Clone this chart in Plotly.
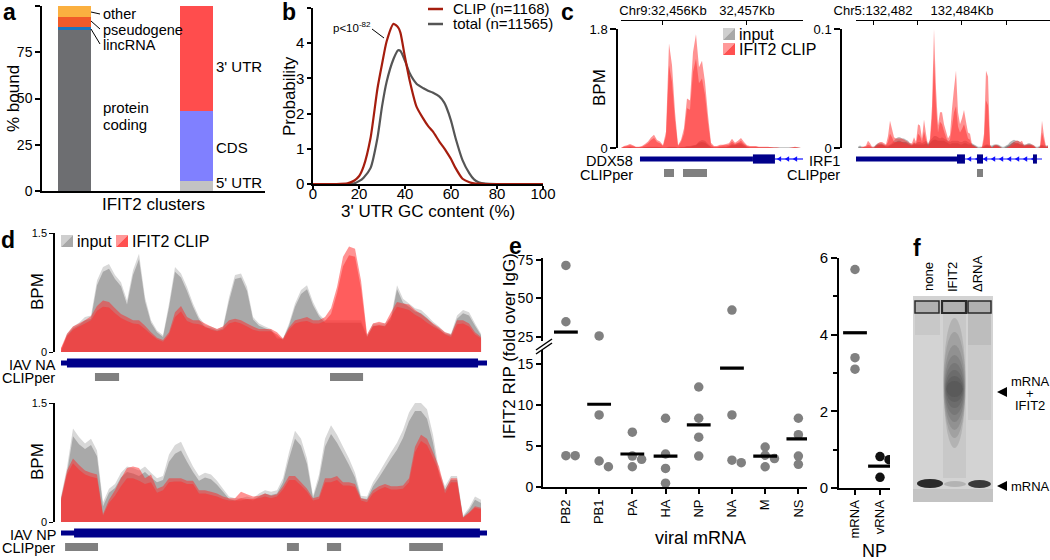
import numpy as np
import plotly.graph_objects as go

# ======================= DATA =======================
# panel a : composition of IFIT2 clusters (% bound)
biotype_names = ["protein coding", "lincRNA", "pseudogene", "other"]
biotype_pct = [86.8, 1.7, 5.5, 6.0]
region_names = ["5' UTR", "CDS", "3' UTR"]
region_pct = [5.5, 37.5, 57.0]

# panel b : 3' UTR GC content densities
gc_content = [0, 10, 15, 18, 20, 22, 25, 28, 30, 32, 35, 37, 38, 40, 42, 45, 48, 50, 52, 55,
              57, 58, 60, 62, 65, 68, 70, 72, 75, 80, 90, 100]
clip_density = [0, 0, 0.02, 0.10, 0.22, 0.50, 1.30, 2.70, 3.40, 4.05, 4.55, 4.45, 4.30, 3.60, 2.95, 2.20,
                1.85, 1.65, 1.50, 1.20, 1.02, 0.92, 0.71, 0.45, 0.15, 0.05, 0.02, 0.01, 0, 0, 0, 0]
total_density = [0, 0, 0, 0.02, 0.08, 0.18, 0.45, 1.30, 2.20, 2.90, 3.55, 3.80, 3.78, 3.50, 3.15, 2.85,
                 2.72, 2.65, 2.60, 2.48, 2.32, 2.18, 1.80, 1.30, 0.68, 0.30, 0.13, 0.05, 0.01, 0, 0, 0]

# panel c : DDX58 coverage (BPM), genomic window chr9
ddx58_window = [32455500, 32457643]
ddx58_clip_hi = [0.00, 0.03, 0.04, 0.06, 0.04, 0.02, 0.02, 0.03, 0.06, 0.10,
                 0.16, 0.20, 0.12, 0.10, 0.04, 0.25, 1.58, 1.25, 0.55, 0.04,
                 0.12, 0.30, 0.75, 0.72, 1.45, 1.72, 1.22, 1.32, 1.00, 0.50,
                 0.08, 0.03, 0.03, 0.05, 0.05, 0.06, 0.07, 0.14, 0.08, 0.11,
                 0.15, 0.09, 0.04, 0.03, 0.03, 0.03, 0.02, 0.02, 0.02, 0.02,
                 0.01, 0.01, 0.01, 0.00, 0.00, 0.00, 0.00, 0.01, 0.02, 0.01, 0.00]
ddx58_clip_lo = [0.00, 0.02, 0.03, 0.04, 0.03, 0.01, 0.01, 0.02, 0.04, 0.07,
                 0.12, 0.15, 0.09, 0.07, 0.03, 0.18, 1.25, 1.00, 0.42, 0.03,
                 0.09, 0.22, 0.60, 0.58, 1.15, 1.35, 0.98, 1.05, 0.80, 0.38,
                 0.05, 0.02, 0.02, 0.03, 0.04, 0.04, 0.05, 0.10, 0.06, 0.08,
                 0.11, 0.06, 0.03, 0.02, 0.02, 0.02, 0.01, 0.01, 0.01, 0.01,
                 0.01, 0.00, 0.00, 0.00, 0.00, 0.00, 0.00, 0.00, 0.01, 0.00, 0.00]
ddx58_input_hi = [0.00, 0.01, 0.01, 0.01, 0.01, 0.01, 0.01, 0.01, 0.01, 0.02,
                  0.02, 0.02, 0.02, 0.01, 0.01, 0.01, 0.02, 0.02, 0.02, 0.01,
                  0.02, 0.02, 0.03, 0.03, 0.04, 0.05, 0.10, 0.12, 0.11, 0.06,
                  0.02, 0.01, 0.01, 0.01, 0.02, 0.02, 0.03, 0.06, 0.05, 0.07,
                  0.08, 0.05, 0.02, 0.01, 0.01, 0.01, 0.01, 0.01, 0.01, 0.01,
                  0.01, 0.01, 0.01, 0.01, 0.01, 0.01, 0.01, 0.01, 0.01, 0.01, 0.00]
ddx58_input_lo = [0.00, 0.00, 0.00, 0.01, 0.00, 0.00, 0.00, 0.00, 0.01, 0.01,
                  0.01, 0.01, 0.01, 0.01, 0.00, 0.00, 0.01, 0.01, 0.01, 0.00,
                  0.01, 0.01, 0.02, 0.02, 0.03, 0.04, 0.08, 0.09, 0.08, 0.04,
                  0.01, 0.00, 0.00, 0.01, 0.01, 0.01, 0.02, 0.04, 0.04, 0.05,
                  0.06, 0.03, 0.01, 0.00, 0.00, 0.00, 0.00, 0.00, 0.00, 0.00,
                  0.00, 0.00, 0.00, 0.00, 0.00, 0.00, 0.00, 0.00, 0.00, 0.00, 0.00]
ddx58_utr = [32455726, 32457071]
ddx58_exons = [[32457071, 32457333]]
ddx58_line = [32457333, 32457667]
ddx58_clipper = [[32456012, 32456131], [32456238, 32456524]]

# panel c : IRF1 coverage (BPM), genomic window chr5
irf1_window = [132481663, 132485933]
irf1_clip_hi = [0.000, 0.000, 0.001, 0.001, 0.002, 0.006, 0.004, 0.001, 0.001, 0.002,
                0.004, 0.005, 0.005, 0.004, 0.003, 0.010, 0.023, 0.016, 0.009, 0.008,
                0.008, 0.008, 0.008, 0.007, 0.006, 0.005, 0.004, 0.004, 0.009, 0.005,
                0.020, 0.019, 0.008, 0.024, 0.012, 0.002, 0.008, 0.035, 0.100, 0.050,
                0.019, 0.030, 0.030, 0.020, 0.014, 0.008, 0.011, 0.033, 0.050, 0.065,
                0.030, 0.020, 0.025, 0.032, 0.022, 0.013, 0.012, 0.003, 0.002, 0.001,
                0.000, 0.000, 0.001, 0.012, 0.065, 0.060, 0.003, 0.000, 0.002, 0.003,
                0.002, 0.001, 0.000, 0.000, 0.000, 0.001, 0.002, 0.004, 0.005, 0.006,
                0.006, 0.005, 0.006, 0.002, 0.003, 0.003, 0.003, 0.003, 0.002, 0.000,
                0.000, 0.001, 0.023, 0.010, 0.001, 0.002]
irf1_clip_lo = [0.000, 0.000, 0.000, 0.001, 0.001, 0.003, 0.002, 0.000, 0.000, 0.001,
                0.002, 0.003, 0.003, 0.002, 0.002, 0.005, 0.012, 0.009, 0.005, 0.005,
                0.005, 0.005, 0.005, 0.004, 0.004, 0.003, 0.002, 0.002, 0.005, 0.003,
                0.012, 0.010, 0.005, 0.014, 0.007, 0.001, 0.005, 0.025, 0.075, 0.035,
                0.013, 0.022, 0.020, 0.014, 0.009, 0.005, 0.007, 0.018, 0.030, 0.035,
                0.018, 0.013, 0.016, 0.020, 0.014, 0.008, 0.007, 0.002, 0.001, 0.000,
                0.000, 0.000, 0.000, 0.007, 0.040, 0.036, 0.002, 0.000, 0.001, 0.002,
                0.001, 0.000, 0.000, 0.000, 0.000, 0.000, 0.001, 0.002, 0.003, 0.004,
                0.004, 0.003, 0.003, 0.001, 0.002, 0.002, 0.002, 0.002, 0.001, 0.000,
                0.000, 0.000, 0.013, 0.006, 0.000, 0.001]
irf1_input_hi = [0.001, 0.002, 0.001, 0.001, 0.001, 0.001, 0.001, 0.001, 0.001, 0.003,
                 0.004, 0.004, 0.004, 0.003, 0.002, 0.002, 0.003, 0.004, 0.006, 0.008,
                 0.009, 0.009, 0.008, 0.008, 0.007, 0.006, 0.004, 0.003, 0.004, 0.004,
                 0.005, 0.005, 0.004, 0.005, 0.006, 0.004, 0.006, 0.008, 0.010, 0.010,
                 0.009, 0.008, 0.009, 0.008, 0.007, 0.006, 0.005, 0.006, 0.006, 0.006,
                 0.006, 0.005, 0.005, 0.006, 0.006, 0.005, 0.004, 0.004, 0.003, 0.002,
                 0.001, 0.001, 0.001, 0.002, 0.003, 0.003, 0.002, 0.002, 0.003, 0.003,
                 0.003, 0.002, 0.001, 0.001, 0.002, 0.003, 0.005, 0.006, 0.007, 0.006,
                 0.006, 0.005, 0.004, 0.003, 0.003, 0.004, 0.004, 0.003, 0.002, 0.001,
                 0.001, 0.002, 0.003, 0.002, 0.002, 0.002]
irf1_input_lo = [0.000, 0.001, 0.000, 0.000, 0.000, 0.000, 0.000, 0.000, 0.000, 0.002,
                 0.003, 0.003, 0.003, 0.002, 0.001, 0.001, 0.002, 0.003, 0.004, 0.005,
                 0.006, 0.006, 0.005, 0.005, 0.005, 0.004, 0.003, 0.002, 0.003, 0.003,
                 0.003, 0.003, 0.003, 0.003, 0.004, 0.003, 0.004, 0.006, 0.007, 0.007,
                 0.006, 0.006, 0.006, 0.006, 0.005, 0.004, 0.003, 0.004, 0.004, 0.004,
                 0.004, 0.003, 0.003, 0.004, 0.004, 0.003, 0.003, 0.003, 0.002, 0.001,
                 0.000, 0.000, 0.000, 0.001, 0.002, 0.002, 0.001, 0.001, 0.002, 0.002,
                 0.002, 0.001, 0.000, 0.000, 0.001, 0.002, 0.003, 0.004, 0.005, 0.004,
                 0.004, 0.003, 0.003, 0.002, 0.002, 0.003, 0.003, 0.002, 0.001, 0.000,
                 0.000, 0.001, 0.002, 0.001, 0.001, 0.001]
irf1_utr = [132481618, 132483888]
irf1_exons = [[132483888, 132484067], [132484337, 132484472], [132485596, 132485685]]
irf1_line = [132484067, 132485798]
irf1_clipper = [[132484337, 132484472]]

# panel d : IAV NA and NP coverage (BPM) along the segment (nt)
na_length = 1430
na_window = [0, 1410]
na_input_hi = [0.00, 0.23, 0.32, 0.37, 0.44, 0.46, 0.90, 1.07, 1.11, 0.97,
               0.88, 0.65, 1.03, 1.24, 0.69, 0.40, 0.27, 0.21, 0.61, 1.07,
               0.99, 0.82, 0.61, 0.44, 0.34, 0.32, 0.29, 0.32, 0.69, 0.97,
               0.99, 0.82, 0.44, 0.36, 0.32, 0.29, 0.19, 0.17, 0.36, 0.61,
               0.78, 0.84, 0.63, 0.48, 0.40, 0.40, 0.40, 0.40, 0.40, 0.40,
               0.40, 0.21, 0.36, 0.36, 0.36, 0.44, 0.84, 0.67, 0.61, 0.55,
               0.53, 0.46, 0.38, 0.32, 0.25, 0.23, 0.46, 0.53, 0.50, 0.36, 0.23]
na_input_lo = [0.00, 0.21, 0.30, 0.34, 0.40, 0.42, 0.84, 1.01, 1.05, 0.92,
               0.83, 0.60, 0.97, 1.17, 0.64, 0.37, 0.25, 0.19, 0.56, 1.01,
               0.94, 0.77, 0.57, 0.41, 0.31, 0.30, 0.27, 0.30, 0.64, 0.92,
               0.94, 0.77, 0.41, 0.33, 0.30, 0.27, 0.17, 0.16, 0.33, 0.57,
               0.73, 0.79, 0.59, 0.45, 0.37, 0.37, 0.37, 0.37, 0.37, 0.37,
               0.37, 0.19, 0.33, 0.33, 0.33, 0.41, 0.79, 0.62, 0.57, 0.51,
               0.49, 0.43, 0.35, 0.29, 0.23, 0.21, 0.42, 0.49, 0.46, 0.33, 0.21]
na_clip_hi = [0.05, 0.23, 0.32, 0.36, 0.40, 0.45, 0.58, 0.65, 0.63, 0.55,
              0.48, 0.44, 0.40, 0.40, 0.33, 0.25, 0.18, 0.15, 0.25, 0.50,
              0.58, 0.44, 0.40, 0.40, 0.36, 0.32, 0.29, 0.32, 0.40, 0.42,
              0.40, 0.36, 0.32, 0.29, 0.29, 0.29, 0.25, 0.17, 0.31, 0.40,
              0.42, 0.44, 0.40, 0.40, 0.44, 0.55, 0.82, 1.20, 1.33, 1.30,
              0.90, 0.22, 0.36, 0.38, 0.36, 0.50, 0.63, 0.61, 0.60, 0.53,
              0.48, 0.42, 0.36, 0.31, 0.25, 0.22, 0.40, 0.40, 0.36, 0.25, 0.19]
na_clip_lo = [0.04, 0.20, 0.28, 0.32, 0.36, 0.40, 0.52, 0.57, 0.56, 0.49,
              0.43, 0.39, 0.36, 0.35, 0.29, 0.22, 0.16, 0.13, 0.22, 0.44,
              0.51, 0.39, 0.36, 0.35, 0.32, 0.28, 0.26, 0.28, 0.36, 0.38,
              0.36, 0.32, 0.28, 0.26, 0.26, 0.26, 0.22, 0.15, 0.28, 0.36,
              0.38, 0.39, 0.36, 0.36, 0.39, 0.48, 0.74, 1.08, 1.22, 1.20,
              0.80, 0.19, 0.32, 0.34, 0.32, 0.45, 0.57, 0.55, 0.53, 0.47,
              0.43, 0.37, 0.32, 0.28, 0.22, 0.19, 0.35, 0.36, 0.32, 0.22, 0.17]
na_cds = [20, 1400]
na_clipper = [[114, 195], [903, 1014]]

np_length = 1565
np_window = [0, 1543]
np_input_hi = [0.32, 0.69, 1.18, 1.07, 0.99, 1.05, 0.90, 0.25, 0.42, 0.48,
               0.62, 0.70, 0.68, 0.65, 0.70, 0.62, 0.55, 0.58, 0.85, 0.97,
               1.01, 0.85, 0.70, 0.58, 0.62, 0.60, 0.52, 0.42, 0.32, 0.30,
               0.30, 0.32, 0.30, 0.36, 0.40, 0.38, 0.40, 0.55, 0.88, 1.15,
               1.05, 0.80, 0.33, 0.60, 1.05, 1.22, 1.10, 0.95, 0.80, 0.62,
               0.33, 0.32, 0.50, 0.62, 0.75, 0.88, 1.00, 1.16, 1.38, 1.50,
               1.50, 1.42, 1.10, 0.65, 0.45, 0.58, 0.58, 0.08, 0.18, 0.32, 0.28]
np_input_lo = [0.28, 0.62, 1.08, 0.98, 0.92, 0.97, 0.83, 0.20, 0.37, 0.43,
               0.56, 0.63, 0.61, 0.58, 0.63, 0.56, 0.50, 0.53, 0.76, 0.86,
               0.90, 0.76, 0.63, 0.52, 0.56, 0.54, 0.47, 0.38, 0.29, 0.27,
               0.27, 0.29, 0.27, 0.32, 0.36, 0.34, 0.36, 0.50, 0.80, 1.05,
               0.96, 0.73, 0.30, 0.54, 0.95, 1.11, 1.00, 0.86, 0.72, 0.56,
               0.30, 0.29, 0.45, 0.56, 0.68, 0.80, 0.91, 1.06, 1.27, 1.40,
               1.40, 1.30, 1.00, 0.59, 0.41, 0.53, 0.53, 0.06, 0.15, 0.28, 0.24]
np_clip_hi = [0.30, 0.65, 0.80, 0.72, 0.65, 0.62, 0.60, 0.10, 0.28, 0.40,
              0.55, 0.68, 0.70, 0.68, 0.55, 0.60, 0.42, 0.45, 0.55, 0.55,
              0.55, 0.52, 0.52, 0.40, 0.40, 0.38, 0.36, 0.32, 0.30, 0.30,
              0.38, 0.35, 0.32, 0.33, 0.36, 0.33, 0.35, 0.45, 0.58, 0.58,
              0.50, 0.42, 0.30, 0.32, 0.55, 0.55, 0.58, 0.50, 0.50, 0.48,
              0.30, 0.28, 0.40, 0.45, 0.48, 0.45, 0.45, 0.46, 0.55, 0.95,
              1.10, 1.05, 0.88, 0.70, 0.40, 0.55, 0.55, 0.06, 0.12, 0.20, 0.18]
np_clip_lo = [0.27, 0.60, 0.74, 0.66, 0.60, 0.57, 0.55, 0.08, 0.24, 0.33,
              0.45, 0.55, 0.55, 0.52, 0.48, 0.50, 0.37, 0.40, 0.50, 0.51,
              0.51, 0.48, 0.48, 0.36, 0.36, 0.34, 0.32, 0.29, 0.27, 0.27,
              0.30, 0.29, 0.29, 0.30, 0.32, 0.30, 0.32, 0.41, 0.53, 0.53,
              0.46, 0.38, 0.27, 0.29, 0.50, 0.50, 0.53, 0.46, 0.46, 0.44,
              0.27, 0.25, 0.36, 0.41, 0.44, 0.41, 0.41, 0.42, 0.50, 0.88,
              1.02, 0.97, 0.81, 0.64, 0.36, 0.50, 0.50, 0.05, 0.11, 0.18, 0.16]
np_cds = [48, 1539]
np_clipper = [[15, 136], [830, 874], [977, 1029], [1279, 1403]]

# panel e : IFIT2 RIP (fold over IgG)
rip_segments = ["PB2", "PB1", "PA", "HA", "NP", "NA", "M", "NS"]
rip_values = [[71.3, 34.7, 3.85, 3.85],
              [25.5, 8.8, 3.2, 2.5],
              [6.7, 3.8, 3.4, 2.5],
              [8.4, 4.05, 2.3, 0.5],
              [12.2, 8.4, 6.1, 3.8],
              [42.3, 8.8, 3.3, 3.0],
              [4.9, 3.9, 3.5, 2.5],
              [8.4, 6.4, 3.8, 2.8]]
rip_means = [28.0, 10.1, 4.05, 3.8, 7.6, 14.5, 3.8, 5.9]
np_rna_types = ["mRNA", "vRNA"]
np_rna_values = [[5.7, 3.4, 3.1], [0.82, 0.74, 0.28]]
np_rna_means = [4.05, 0.57]

# ======================= LAYOUT HELPERS =======================
W, H = 1050, 560
FONT = "Arial, 'Liberation Sans', Helvetica, sans-serif"


def X(px):
    return px / W


def Y(py):
    return 1 - py / H


def dx(a, b):
    return [a / W, b / W]


def dy(top, bot):
    return [1 - bot / H, 1 - top / H]


shapes = []
annotations = []


def text(s, px, py, size=15, xa="center", ya="middle", angle=0, bold=False, color="black"):
    if bold:
        s = "<b>%s</b>" % s
    annotations.append(dict(text=s, x=X(px), y=Y(py), xref="paper", yref="paper", showarrow=False,
                            xanchor=xa, yanchor=ya, textangle=angle,
                            font=dict(size=size, color=color, family=FONT)))


def pline(x0, y0, x1, y1, color="black", width=1):
    shapes.append(dict(type="line", xref="paper", yref="paper", x0=X(x0), y0=Y(y0), x1=X(x1), y1=Y(y1),
                       line=dict(color=color, width=width)))


def prect(x0, y0, x1, y1, fill, line=None, lw=0, kind="rect"):
    shapes.append(dict(type=kind, xref="paper", yref="paper", x0=X(x0), y0=Y(y0), x1=X(x1), y1=Y(y1),
                       fillcolor=fill, line=dict(color=line or fill, width=lw)))


def ppath(points, fill):
    d = "M " + " L ".join("%f,%f" % (X(a), Y(b)) for a, b in points) + " Z"
    shapes.append(dict(type="path", xref="paper", yref="paper", path=d, fillcolor=fill, line=dict(width=0)))


def drect(xref, x0, x1, ytop, ybot, fill):
    shapes.append(dict(type="rect", xref=xref, yref="paper", x0=x0, x1=x1, y0=Y(ybot), y1=Y(ytop),
                       fillcolor=fill, line=dict(width=0)))


def dpath(xref, pts, fill):
    d = "M " + " L ".join("%f,%f" % (a, Y(b)) for a, b in pts) + " Z"
    shapes.append(dict(type="path", xref=xref, yref="paper", path=d, fillcolor=fill, line=dict(width=0)))


def swatch(x0, y0, size, light, dark):
    ppath([(x0, y0), (x0 + size, y0), (x0, y0 + size)], light)
    ppath([(x0 + size, y0), (x0 + size, y0 + size), (x0, y0 + size)], dark)


fig = go.Figure()
AX = dict(showgrid=False, zeroline=False, showline=True, linecolor="black", ticks="outside",
          tickcolor="black", automargin=False, tickfont=dict(family=FONT, size=14, color="black"))

# ======================= PANEL a =======================
bio_colors = ["#6d6e71", "#1c75bc", "#f15a29", "#fbb040"]
reg_colors = ["#c3c3c3", "#8080ff", "#ff4d4d"]
cat_a = ["gene type", "gene region"]
for n, v, c in zip(biotype_names, biotype_pct, bio_colors):
    fig.add_trace(go.Bar(x=[cat_a[0]], y=[v], name=n, marker=dict(color=c, line=dict(width=0)),
                         width=0.27, xaxis="x", yaxis="y", showlegend=False))
for n, v, c in zip(region_names, region_pct, reg_colors):
    fig.add_trace(go.Bar(x=[cat_a[1]], y=[v], name=n, marker=dict(color=c, line=dict(width=0)),
                         width=0.27, xaxis="x", yaxis="y", showlegend=False))

# ======================= PANEL b =======================
fig.add_trace(go.Scatter(x=gc_content, y=total_density, mode="lines", xaxis="x2", yaxis="y2",
                         line=dict(color="#555555", width=2.2, shape="spline", smoothing=0.6), showlegend=False))
fig.add_trace(go.Scatter(x=gc_content, y=clip_density, mode="lines", xaxis="x2", yaxis="y2",
                         line=dict(color="#a51d0e", width=2.2, shape="spline", smoothing=0.6), showlegend=False))


# ======================= coverage tracks =======================
def coverage(xa, ya, window, inp_hi, inp_lo, cl_hi, cl_lo, glight, gdark):
    xs = np.linspace(window[0], window[1], len(cl_hi))
    for vals, col in ((inp_hi, glight), (inp_lo, gdark),
                      (cl_hi, "rgba(255,40,40,0.5)"), (cl_lo, "rgba(255,40,40,0.5)")):
        fig.add_trace(go.Scatter(x=xs, y=vals, mode="none", fill="tozeroy", fillcolor=col,
                                 xaxis=xa, yaxis=ya, showlegend=False, hoverinfo="skip"))


coverage("x3", "y3", ddx58_window, ddx58_input_hi, ddx58_input_lo, ddx58_clip_hi, ddx58_clip_lo, "#b8b8b8", "#8a8a8a")
coverage("x4", "y4", irf1_window, irf1_input_hi, irf1_input_lo, irf1_clip_hi, irf1_clip_lo, "#b8b8b8", "#858585")
coverage("x5", "y5", na_window, na_input_hi, na_input_lo, na_clip_hi, na_clip_lo, "#d8d8d8", "#a9a9a9")
coverage("x6", "y6", np_window, np_input_hi, np_input_lo, np_clip_hi, np_clip_lo, "#d8d8d8", "#a9a9a9")

NAVY = "#00008b"
BLUE = "#1010ff"


def gene_model(xref, utr, exons, line, cy, bp_per_px):
    # intron line with strand chevrons
    drect(xref, line[0], line[1], cy - 0.6, cy + 0.6, BLUE)
    step = 8 * bp_per_px
    pos = np.arange(line[0] + 4 * bp_per_px, line[1] - 2 * bp_per_px, step)
    for p in pos:
        dpath(xref, [(p - 2.2 * bp_per_px, cy), (p + 2.2 * bp_per_px, cy - 2.8),
                     (p + 2.2 * bp_per_px, cy + 2.8)], BLUE)
    drect(xref, utr[0], utr[1], cy - 2.6, cy + 2.6, NAVY)
    for e in exons:
        drect(xref, e[0], e[1], cy - 4.6, cy + 4.6, NAVY)


ddx58_bpp = 1000 / 84.0
irf1_bpp = 1000 / 44.5
gene_model("x3", ddx58_utr, ddx58_exons, ddx58_line, 159, ddx58_bpp)
gene_model("x4", irf1_utr, irf1_exons, irf1_line, 159, irf1_bpp)
for a, b in ddx58_clipper:
    drect("x3", a, b, 169, 177, "#808080")
for a, b in irf1_clipper:
    drect("x4", a, b, 169, 177, "#808080")

# IAV segments
drect("x5", 0, na_length, 360.5, 365.5, NAVY)
drect("x5", na_cds[0], na_cds[1], 358.5, 367.5, NAVY)
for a, b in na_clipper:
    drect("x5", a, b, 373, 381, "#808080")
drect("x6", 0, np_length, 530.5, 535.5, NAVY)
drect("x6", np_cds[0], np_cds[1], 528.5, 537.5, NAVY)
for a, b in np_clipper:
    drect("x6", a, b, 543, 551, "#808080")

# ======================= PANEL e =======================
LOW_PPU = 8.22
UP_PPU = 1.54
CAT_PX = 33.1


def ypix(v):
    return 487.3 - v * LOW_PPU if v < 20 else 336.7 - (v - 25) * UP_PPU


def swarm(vals, cpx, diam=8.5):
    placed, offs = [], []
    for v in vals:
        yv = ypix(v)
        cand_ok = 0.0
        for cand in (0.0, 0.14, -0.14, 0.28, -0.28):
            if all(abs(yv - py) >= diam * 0.8 or abs(cand - po) * cpx >= diam * 0.8 for py, po in placed):
                cand_ok = cand
                break
        placed.append((yv, cand_ok))
        offs.append(cand_ok)
    return offs


lx, ly, ux, uy = [], [], [], []
for i, vals in enumerate(rip_values):
    offs = swarm(vals, CAT_PX)
    for v, o in zip(vals, offs):
        if v < 20:
            lx.append(i + o); ly.append(v)
        else:
            ux.append(i + o); uy.append(v)
PT = dict(size=9.5, color="#808080", line=dict(width=0))
fig.add_trace(go.Scatter(x=lx, y=ly, mode="markers", marker=PT, xaxis="x7", yaxis="y7", showlegend=False))
fig.add_trace(go.Scatter(x=ux, y=uy, mode="markers", marker=PT, xaxis="x7", yaxis="y8", showlegend=False))
MEAN = dict(symbol="line-ew", size=17, line=dict(width=3.2, color="black"))
mlx = [i for i, m in enumerate(rip_means) if m < 20]
mly = [m for m in rip_means if m < 20]
mux = [i for i, m in enumerate(rip_means) if m >= 20]
muy = [m for m in rip_means if m >= 20]
fig.add_trace(go.Scatter(x=mlx, y=mly, mode="markers", marker=MEAN, xaxis="x7", yaxis="y7", showlegend=False))
fig.add_trace(go.Scatter(x=mux, y=muy, mode="markers", marker=MEAN, xaxis="x7", yaxis="y8", showlegend=False))

# NP mRNA / vRNA
np_cols = ["#808080", "#111111"]
for i, vals in enumerate(np_rna_values):
    offs = []
    placed = []
    for v in vals:
        yv = 488 - v * 38.4
        cand_ok = 0.0
        for cand in (0.0, 0.18, -0.18, 0.36):
            if all(abs(yv - py) >= 7 or abs(cand - po) * 25 >= 7 for py, po in placed):
                cand_ok = cand
                break
        placed.append((yv, cand_ok))
        offs.append(cand_ok)
    fig.add_trace(go.Scatter(x=[i + o for o in offs], y=vals, mode="markers",
                             marker=dict(size=9.5, color=np_cols[i], line=dict(width=0)),
                             xaxis="x8", yaxis="y9", showlegend=False))
fig.add_trace(go.Scatter(x=list(range(len(np_rna_means))), y=np_rna_means, mode="markers", marker=MEAN,
                         xaxis="x8", yaxis="y9", showlegend=False))

# ======================= AXES =======================
layout_axes = dict(
    xaxis=dict(AX, domain=dx(42, 265), anchor="y", type="category", categoryorder="array",
               categoryarray=cat_a, range=[-0.266, 1.561], ticks="", showticklabels=False, linewidth=1.5),
    yaxis=dict(AX, domain=dy(6, 191), anchor="x", range=[0, 100], tickvals=[0, 25, 50, 75, 100],
               ticklen=5, linewidth=1.5, tickwidth=1.5),
    xaxis2=dict(AX, domain=dx(313, 543), anchor="y2", range=[0, 100], tickvals=[0, 20, 40, 60, 80, 100],
                ticklen=3, linewidth=1.5, tickwidth=1.5, ticklabelstandoff=-8,
                tickfont=dict(family=FONT, size=15, color="black")),
    yaxis2=dict(AX, domain=dy(8, 184), anchor="x2", range=[0, 5], tickvals=[0, 1, 2, 3, 4, 5],
                ticklen=4, linewidth=1.5, tickwidth=1.5, tickfont=dict(family=FONT, size=15, color="black")),
    xaxis3=dict(AX, domain=dx(621, 803), anchor="free", position=Y(20), side="top",
                range=[32455500, 32457667], tickvals=[32456000, 32457000],
                ticktext=["Chr9:32,456Kb", "32,457Kb"], ticks="inside", ticklen=4, linewidth=1,
                tickfont=dict(family=FONT, size=13, color="black")),
    yaxis3=dict(AX, domain=dy(29, 148), anchor="free", position=X(617), range=[0, 1.8],
                tickvals=[0, 1.8], ticktext=["0", "1.8"], ticklen=6, linewidth=1.5, tickwidth=1.5,
                tickfont=dict(family=FONT, size=13, color="black")),
    xaxis4=dict(AX, domain=dx(856, 1050), anchor="free", position=Y(20), side="top",
                range=[132481618, 132485978], tickvals=[132482000, 132484000],
                ticktext=["Chr5:132,482", "132,484Kb"], ticks="inside", ticklen=4, linewidth=1,
                minor=dict(ticks="inside", tick0=132482000, dtick=1000, ticklen=4, tickcolor="black"),
                tickfont=dict(family=FONT, size=13, color="black")),
    yaxis4=dict(AX, domain=dy(29, 148), anchor="free", position=X(841), range=[0, 0.1],
                tickvals=[0, 0.1], ticktext=["0", "0.1"], ticklen=6, linewidth=1.5, tickwidth=1.5,
                tickfont=dict(family=FONT, size=13, color="black")),
    xaxis5=dict(domain=dx(61, 487), anchor="y5", range=[0, na_length], visible=False, automargin=False),
    yaxis5=dict(AX, domain=dy(233, 352), anchor="free", position=X(54), range=[0, 1.5],
                tickvals=[0, 1.5], ticktext=["0", "1.5"], ticklen=4, linewidth=1.5,
                tickfont=dict(family=FONT, size=11, color="black")),
    xaxis6=dict(domain=dx(61, 487), anchor="y6", range=[0, np_length], visible=False, automargin=False),
    yaxis6=dict(AX, domain=dy(403, 522), anchor="free", position=X(54), range=[0, 1.5],
                tickvals=[0, 1.5], ticktext=["0", "1.5"], ticklen=4, linewidth=1.5,
                tickfont=dict(family=FONT, size=11, color="black")),
    xaxis7=dict(AX, domain=dx(543, 807), anchor="y7", range=[-0.69, 7.26],
                tickvals=list(range(len(rip_segments))), ticktext=rip_segments, tickangle=-90,
                ticklen=5, linewidth=2, tickwidth=1.5, tickfont=dict(family=FONT, size=13, color="black")),
    yaxis7=dict(AX, domain=dy(350, 487.3), anchor="x7", range=[0, 16.7], tickvals=[0, 5, 10, 15],
                ticklen=5, linewidth=2, tickwidth=2),
    yaxis8=dict(AX, domain=dy(258, 341), anchor="x7", range=[22.2, 76.1], tickvals=[25, 50, 75],
                ticklen=5, linewidth=2, tickwidth=2),
    xaxis8=dict(AX, domain=dx(839, 890), anchor="y9", range=[-0.64, 1.4], tickvals=[0, 1],
                ticktext=np_rna_types, tickangle=-90, ticklen=5, linewidth=2, tickwidth=1.5,
                tickfont=dict(family=FONT, size=13, color="black")),
    yaxis9=dict(AX, domain=dy(258, 488), anchor="x8", range=[0, 6], tickvals=[0, 2, 4, 6],
                ticklen=6, linewidth=2, tickwidth=2, tickfont=dict(family=FONT, size=15, color="black"),
                minor=dict(ticks="outside", dtick=1, ticklen=4, tickwidth=1.5, tickcolor="black")),
)

# ======================= TEXT / DECORATION =======================
# panel letters
for s, px, py in (("a", 9, 12), ("b", 289, 12), ("c", 567, 12), ("d", 8, 240), ("e", 515, 246), ("f", 917, 248)):
    text(s, px, py, size=23, bold=True)

# panel a
text("% bound", 13, 99, size=17, angle=-90)
text("IFIT2 clusters", 153, 204, size=17)
text("other", 101, 14, size=14.5, xa="left")
text("pseudogene", 101, 30, size=14.5, xa="left")
text("lincRNA", 101, 45, size=14.5, xa="left")
pline(91, 12, 100, 14)
pline(91, 21, 100, 29)
pline(91, 29, 100, 44)
text("protein", 101, 108, size=15, xa="left")
text("coding", 101, 124, size=15, xa="left")
text("3' UTR", 214, 66, size=15, xa="left")
text("CDS", 214, 148, size=15, xa="left")
text("5' UTR", 214, 183, size=15, xa="left")

# panel b
text("Probability", 289, 96, size=17, angle=-90)
text("3' UTR GC content (%)", 428, 211, size=17)
pline(428, 9, 443, 9, color="#a51d0e", width=2.5)
pline(428, 24, 443, 24, color="#555555", width=2.5)
text("CLIP (n=1168)", 451, 9, size=15, xa="left")
text("total (n=11565)", 451, 24, size=15, xa="left")
text("p<10<sup>-82</sup>", 352, 27, size=11.5)
pline(372, 29, 384, 38)

# panel c
text("BPM", 599, 88, size=17, angle=-90)
swatch(723, 28, 12, "#cfcfcf", "#a8a8a8")
swatch(723, 43, 12, "#ff9a9a", "#ff5050")
text("input", 737, 34, size=16, xa="left")
text("IFIT2 CLIP", 737, 49, size=16, xa="left")
text("DDX58", 635, 161, size=14.5, xa="right")
text("CLIPper", 635, 175, size=14.5, xa="right")
text("IRF1", 842, 161, size=14.5, xa="right")
text("CLIPper", 842, 175, size=14.5, xa="right")

# panel d
text("BPM", 37, 292, size=17, angle=-90)
text("BPM", 37, 462, size=17, angle=-90)
swatch(61, 235, 12, "#cfcfcf", "#a8a8a8")
swatch(116, 235, 12, "#ff9a9a", "#ff5050")
text("input", 75, 241, size=16, xa="left")
text("IFIT2 CLIP", 130, 241, size=16, xa="left")
text("IAV NA", 58, 364.5, size=14.5, xa="right")
text("CLIPper", 57, 378, size=14.5, xa="right")
text("IAV NP", 58, 534.5, size=14.5, xa="right")
text("CLIPper", 57, 548, size=14.5, xa="right")

# panel e
text("IFIT2 RIP (fold over IgG)", 509, 346, size=17, angle=-90)
text("viral mRNA", 700, 538, size=18)
text("NP", 874, 551, size=18)
pline(536, 350, 552, 339, width=1.5)
pline(536, 354, 552, 343, width=1.5)

# panel f : gel (drawn decoration)
prect(913, 296, 993, 502, "#d3d3d3")
prect(913, 489, 993, 502, "#c3c3c3")
prect(915, 312, 940, 335, "rgba(0,0,0,0.05)")
prect(968, 312, 991, 345, "rgba(0,0,0,0.10)")
prect(968, 345, 991, 420, "rgba(0,0,0,0.04)")
prect(943, 312, 966, 478, "rgba(0,0,0,0.05)")
for (hw, t1, t2) in ((11, 318, 448), (11, 332, 438), (10.5, 345, 430), (10, 355, 422),
                     (9.5, 363, 415), (9, 370, 408), (8.5, 376, 402), (8, 381, 397)):
    prect(954.5 - hw, t1, 954.5 + hw, t2, "rgba(30,30,30,0.12)", kind="circle")
for a, b, lw in ((915, 939, 1.5), (942, 966, 2.2), (968, 991, 1.5)):
    prect(a, 301, b, 313, "#b0b0b0", line="#2a2a2a", lw=lw)
prect(917, 479, 943, 488, "#2a2a2a", kind="circle")
prect(968, 480, 991, 488, "#3a3a3a", kind="circle")
prect(944, 481, 966, 487, "rgba(0,0,0,0.15)", kind="circle")
text("none", 928, 277, size=13, angle=-90)
text("IFIT2", 952, 277, size=13, angle=-90)
text("ΔRNA", 977, 274, size=13, angle=-90)
ppath([(997, 392), (1007, 387), (1007, 397)], "black")
ppath([(997, 486), (1007, 481), (1007, 491)], "black")
text("mRNA", 1030, 381, size=13)
text("+", 1030, 393, size=13)
text("IFIT2", 1030, 405, size=13)
text("mRNA", 1009, 486, size=13, xa="left")

fig.update_layout(
    width=W, height=H, autosize=False,
    margin=dict(l=0, r=0, t=0, b=0, pad=0),
    paper_bgcolor="white", plot_bgcolor="rgba(0,0,0,0)",
    barmode="stack", showlegend=False,
    font=dict(family=FONT, color="black"),
    shapes=shapes, annotations=annotations,
    **layout_axes,
)

fig.write_html("out.html", include_plotlyjs=True, config={"displayModeBar": False},
               post_script="document.body.style.margin='0';document.body.style.overflow='hidden';")
